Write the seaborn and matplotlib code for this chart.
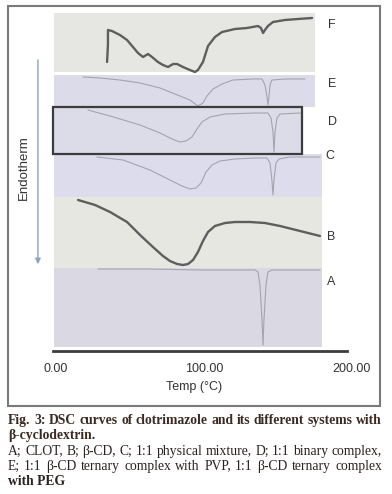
import numpy as np
import pandas as pd
import matplotlib
matplotlib.use('Agg')
import matplotlib.pyplot as plt
from matplotlib.patches import Rectangle
import seaborn as sns

# Curvas DSC (temperatura en °C, señal apilada en unidades arbitrarias)
temp_F = [34.5, 35.1, 35.1, 37.8, 43.2, 48.0, 52.0, 55.4, 58.8, 62.2, 64.9, 68.9, 72.3,
          75.7, 79.1, 81.8, 85.8, 90.5, 93.9, 95.9, 99.3, 102.7, 107.4, 112.2, 120.9,
          129.1, 136.5, 138.5, 139.9, 141.2, 143.2, 146.6, 154.7, 163.5, 173.0]
sig_F = [289, 306, 321, 320, 316, 311, 304, 298, 294, 297, 294, 289, 286, 284, 287, 287,
         284, 281, 279, 281, 289, 305, 314, 319, 322, 323, 325, 323, 318, 321, 325, 329,
         331, 332, 333]

temp_E = [18.2, 29.7, 43.2, 56.8, 70.3, 80.4, 90.5, 95.9, 99.3, 102.0, 106.1, 112.2,
          119.6, 133.1, 139.2, 141.2, 142.6, 143.2, 143.9, 144.6, 145.9, 154.7, 168.2]
sig_E = [274, 273, 271, 268, 263, 257, 251, 245, 248, 255, 262, 267, 271, 272, 272, 266,
         254, 246, 254, 266, 271, 272, 272]

temp_D = [21.6, 36.5, 56.8, 70.3, 78.4, 83.8, 87.8, 91.9, 95.3, 98.6, 104.1, 114.2,
          134.5, 143.2, 145.3, 146.6, 147.3, 147.97, 149.3, 151.4, 164.9]
sig_D = [241, 235, 226, 218, 212, 209, 210, 214, 222, 229, 234, 237, 238, 238, 233, 219,
         199, 219, 233, 237, 238]

temp_C = [27.7, 45.3, 63.5, 77.0, 85.1, 90.5, 94.6, 98.0, 101.4, 105.4, 110.8, 120.9,
          134.5, 142.6, 144.6, 145.9, 146.6, 147.3, 148.6, 150.7, 158.1, 178.4]
sig_C = [194, 191, 181, 171, 165, 162, 163, 168, 179, 186, 190, 192, 193, 193, 188, 171,
         156, 171, 188, 192, 194, 194]

temp_B = [14.9, 26.4, 36.5, 48.0, 56.8, 65.5, 72.3, 77.0, 81.8, 85.8, 89.2, 92.6, 95.9,
          99.3, 102.7, 107.4, 114.2, 120.9, 131.1, 141.2, 151.4, 164.9, 178.4]
sig_B = [151, 146, 139, 129, 116, 104, 95, 90, 87, 86, 87, 91, 99, 110, 119, 125, 128,
         129, 129, 128, 125, 120, 115]

temp_A = [28.4, 63.5, 97.3, 134.5, 136.5, 137.8, 139.2, 139.9, 140.5, 141.9, 143.2,
          145.9, 178.4]
sig_A = [82, 82, 81, 81, 79, 66, 31, 6, 31, 66, 79, 81, 81]

curvas = {
    'F': (temp_F, sig_F), 'E': (temp_E, sig_E), 'D': (temp_D, sig_D),
    'C': (temp_C, sig_C), 'B': (temp_B, sig_B), 'A': (temp_A, sig_A),
}

# Paneles de fondo (recortes escaneados): [t0, t1, y0, y1, color]
paneles = {
    'F': (-1.35, 175.0, 279, 338, '#e6e7e2'),
    'E': (-1.35, 175.0, 244, 276, '#dcdbea'),
    'D': (-1.35, 166.2, 197, 244, '#dcdbe8'),
    'C': (-1.35, 179.7, 154, 197, '#dddcec'),
    'B': (-1.35, 179.7, 83, 154, '#e5e7e0'),
    'A': (-1.35, 179.7, 4, 83, '#d9d8e3'),
}
etiquetas_pos = {'F': (183.8, 326), 'E': (183.8, 267), 'D': (183.8, 229),
                 'C': (181.8, 195), 'B': (183.1, 114), 'A': (183.1, 69)}

sns.set_theme(style='white')
plt.rcParams['font.family'] = ['Liberation Sans', 'DejaVu Sans']

fig = plt.figure(figsize=(3.92, 4.94), dpi=100)
W, H = 392, 494
ax = fig.add_axes([8 / W, 1 - 351 / H, 372 / W, (351 - 6) / H])

for k, (t0, t1, y0, y1, col) in paneles.items():
    ax.add_patch(Rectangle((t0, y0), t1 - t0, y1 - y0, facecolor=col,
                           edgecolor='none', zorder=0))

for k, (t, s) in curvas.items():
    df = pd.DataFrame({'temp': t, 'senal': s})
    grueso = k in ('F', 'B')
    sns.lineplot(data=df, x='temp', y='senal', ax=ax, sort=False, estimator=None,
                 color='#5e5e5e' if grueso else '#a4a4ae',
                 linewidth=1.7 if grueso else 0.8, zorder=2)

for k, (tx, ty) in etiquetas_pos.items():
    ax.text(tx, ty, k, fontsize=9, color='#333333', ha='left', va='center')

# Recuadro de D
ax.add_patch(Rectangle((-2.0, 197), 168.2, 47, facecolor='none',
                       edgecolor='#3c3c3c', linewidth=1.6, zorder=3))

# Flecha endotermia
ax.annotate('', xy=(-12.2, 84), xytext=(-12.2, 294),
            arrowprops=dict(arrowstyle='-|>', color='#8ea3c4', lw=1.0,
                            mutation_scale=8))
ax.text(-21.6, 183, 'Endotherm', rotation=90, fontsize=9.5, color='#333333',
        ha='center', va='center')

ax.set_xlim(-32.43, 218.92)
ax.set_ylim(0, 345)
for lado in ('top', 'left', 'right'):
    ax.spines[lado].set_visible(False)
ax.spines['bottom'].set_bounds(-2.03, 196.6)
ax.spines['bottom'].set_color('#3c3c3c')
ax.spines['bottom'].set_linewidth(2.0)
ax.set_yticks([])
ax.set_xticks([0, 100, 200])
ax.set_xticklabels(['0.00', '100.00', '200.00'])
ax.tick_params(axis='x', length=0, pad=9, labelsize=9, labelcolor='#333333')
ax.set_xlabel('Temp (°C)', fontsize=9, color='#333333', labelpad=4)
ax.set_ylabel('')
ax.patch.set_alpha(0)

# Marco exterior
fig.patches.append(Rectangle((8 / W, 1 - 406 / H), 372 / W, 400 / H,
                             transform=fig.transFigure, facecolor='none',
                             edgecolor='#7a7a7a', linewidth=1.5))

# Pie de figura (justificado a mano)
pie = [
    ('Fig. 3: DSC curves of clotrimazole and its different systems with', 'bold', '#3b2a22', True),
    ('β-cyclodextrin.', 'bold', '#3b2a22', False),
    ('A; CLOT, B; β-CD, C; 1:1 physical mixture, D; 1:1 binary complex,', 'normal', '#2a2220', True),
    ('E; 1:1 β-CD ternary complex with PVP, 1:1 β-CD ternary complex', 'normal', '#2a2220', True),
    ('with PEG', 'bold', '#2a2220', False),
]
ys = [420, 435, 451, 466, 481]
x0, x1 = 8, 382
fuente = ['Liberation Serif', 'DejaVu Serif']
rend = fig.canvas.get_renderer()
for (txt, peso, col, just), yy in zip(pie, ys):
    kw = dict(fontsize=9.8, fontweight=peso, color=col, family=fuente,
              ha='left', va='center')
    if not just:
        fig.text(x0 / W, 1 - yy / H, txt, **kw)
        continue
    palabras = txt.split(' ')
    objs = [fig.text(0, 1 - yy / H, p, **kw) for p in palabras]
    anchos = [o.get_window_extent(rend).width for o in objs]
    hueco = (x1 - x0 - sum(anchos)) / (len(palabras) - 1)
    xp = x0
    for o, a in zip(objs, anchos):
        o.set_x(xp / W)
        xp += a + hueco

fig.savefig('out.png', dpi=100)
